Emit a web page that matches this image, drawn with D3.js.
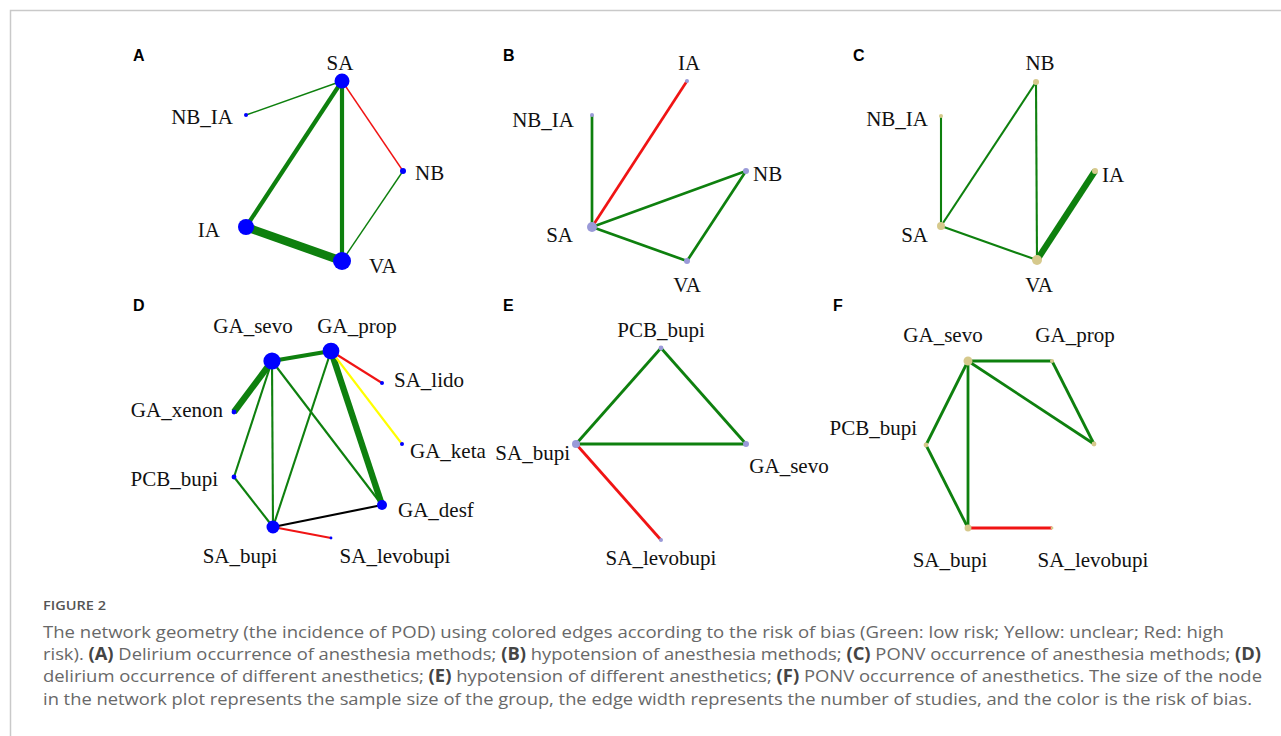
<!DOCTYPE html>
<html>
<head>
<meta charset="utf-8">
<script src="https://cdn.jsdelivr.net/npm/d3@7"></script>
<style>
  body { margin: 0; background: #fff; }
  svg { display: block; }
</style>
</head>
<body>
<svg id="chart"></svg>
<script>
// node layout units (netgraph coordinates), sample sizes and comparisons for each panel

// A - delirium, anesthesia methods
const aNodes = ["SA", "NB_IA", "NB", "IA", "VA"];
const aX = [22.2, 12.6, 28.3, 12.6, 22.2];
const aY = [4.1, 7.5, 13.1, 18.7, 22.1];
const aSize = [56, 4, 9, 64, 81];
const aEdges = [["SA", "NB_IA", 1, "low"], ["SA", "IA", 3, "low"], ["SA", "VA", 3, "low"],
                ["SA", "NB", 1, "high"], ["NB", "VA", 1, "low"], ["IA", "VA", 6, "low"]];

// B - hypotension, anesthesia methods
const bNodes = ["IA", "NB_IA", "NB", "SA", "VA"];
const bX = [19.7, 10.2, 25.6, 10.2, 19.7];
const bY = [4.1, 7.5, 13.1, 18.7, 22.1];
const bSize = [4, 4, 9, 25, 9];
const bEdges = [["SA", "NB_IA", 1, "low"], ["SA", "IA", 1, "high"], ["SA", "NB", 1, "low"],
                ["SA", "VA", 1, "low"], ["NB", "VA", 1, "low"]];

// C - PONV, anesthesia methods
const cNodes = ["NB", "NB_IA", "IA", "SA", "VA"];
const cX = [19.6, 10.1, 25.5, 10.1, 19.7];
const cY = [4.2, 7.6, 13.1, 18.6, 22.0];
const cSize = [9, 4, 9, 16, 25];
const cEdges = [["NB_IA", "SA", 1, "low"], ["SA", "NB", 1, "low"], ["NB", "VA", 1, "low"],
                ["SA", "VA", 1, "low"], ["VA", "IA", 3, "low"]];

// D - delirium, anesthetics
const dNodes = ["GA_sevo", "GA_prop", "SA_lido", "GA_xenon", "GA_keta", "PCB_bupi", "GA_desf", "SA_bupi", "SA_levobupi"];
const dX = [15.2, 21.1, 26.2, 11.4, 28.2, 11.4, 26.2, 15.3, 21.1];
const dY = [7.1, 6.1, 9.3, 12.2, 15.4, 18.7, 21.5, 23.7, 24.8];
const dSize = [74, 70, 4, 6, 4, 6, 25, 42, 2];
const dEdges = [["GA_sevo", "GA_prop", 2, "low"], ["GA_sevo", "GA_xenon", 3, "low"],
                ["GA_sevo", "PCB_bupi", 1, "low"], ["GA_sevo", "SA_bupi", 1, "low"],
                ["GA_sevo", "GA_desf", 1, "low"], ["GA_prop", "SA_bupi", 1, "low"],
                ["GA_prop", "GA_desf", 3, "low"], ["GA_prop", "SA_lido", 1, "high"],
                ["GA_prop", "GA_keta", 1, "unclear"], ["PCB_bupi", "SA_bupi", 1, "low"],
                ["SA_bupi", "GA_desf", 1, "other"], ["SA_bupi", "SA_levobupi", 1, "high"]];

// E - hypotension, anesthetics
const eNodes = ["PCB_bupi", "SA_bupi", "GA_sevo", "SA_levobupi"];
const eX = [17.1, 8.6, 25.6, 17.1];
const eY = [5.8, 15.4, 15.4, 25.0];
const eSize = [6, 16, 9, 4];
const eEdges = [["PCB_bupi", "SA_bupi", 1, "low"], ["PCB_bupi", "GA_sevo", 1, "low"],
                ["SA_bupi", "GA_sevo", 1, "low"], ["SA_bupi", "SA_levobupi", 1, "high"]];

// F - PONV, anesthetics (one node carries no label in the figure)
const fNodes = ["GA_sevo", "GA_prop", "", "PCB_bupi", "SA_bupi", "SA_levobupi"];
const fX = [14.8, 23.2, 27.4, 10.6, 14.8, 23.2];
const fY = [7.1, 7.1, 15.4, 15.5, 23.8, 23.8];
const fSize = [20, 4, 6, 6, 12, 2];
const fEdges = [["GA_sevo", "GA_prop", 1, "low"], ["GA_sevo", "", 1, "low"], ["GA_prop", "", 1, "low"],
                ["GA_sevo", "PCB_bupi", 1, "low"], ["GA_sevo", "SA_bupi", 1, "low"],
                ["PCB_bupi", "SA_bupi", 1, "low"], ["SA_bupi", "SA_levobupi", 1, "high"]];

const captionLines = [
  [["The network geometry (the incidence of POD) using colored edges according to the risk of bias (Green: low risk; Yellow: unclear; Red: high", 0]],
  [["risk). ", 0], ["(A)", 1], [" Delirium occurrence of anesthesia methods; ", 0], ["(B)", 1],
   [" hypotension of anesthesia methods; ", 0], ["(C)", 1], [" PONV occurrence of anesthesia methods; ", 0], ["(D)", 1]],
  [["delirium occurrence of different anesthetics; ", 0], ["(E)", 1], [" hypotension of different anesthetics; ", 0],
   ["(F)", 1], [" PONV occurrence of anesthetics. The size of the node", 0]],
  [["in the network plot represents the sample size of the group, the edge width represents the number of studies, and the color is the risk of bias.", 0]]
];

// ---- drawing ----
var svgWidth = 1281, svgHeight = 736;
var svg = d3.select("#chart").attr("width", svgWidth).attr("height", svgHeight);

var riskColor = { low: "#0e800e", high: "#f01414", unclear: "#ffff00", other: "#000000" };

// label placement per node: [dx, dy, anchor] in px from the node
var panels = [
  { letter: "A", ox: 120, oy: 40, nodes: aNodes, x: aX, y: aY, size: aSize, edges: aEdges, fill: "#0000ff", maxW: 8.4,
    labels: [[-2, -11, "middle"], [-13, 9, "end"], [12, 9, "start"], [-26, 10, "end"], [27, 12, "start"]] },
  { letter: "B", ox: 490, oy: 40, nodes: bNodes, x: bX, y: bY, size: bSize, edges: bEdges, fill: "#9a9ad8", maxW: 2.7,
    labels: [[2, -11, "middle"], [-18, 12, "end"], [7, 10, "start"], [-19, 15, "end"], [0, 31, "middle"]] },
  { letter: "C", ox: 840, oy: 40, nodes: cNodes, x: cX, y: cY, size: cSize, edges: cEdges, fill: "#d6c98c", maxW: 6.3,
    labels: [[4, -12, "middle"], [-13, 10, "end"], [7, 11, "start"], [-13, 16, "end"], [2, 32, "middle"]] },
  { letter: "D", ox: 120, oy: 290, nodes: dNodes, x: dX, y: dY, size: dSize, edges: dEdges, fill: "#0000ff", maxW: 6.3,
    labels: [[-19, -28, "middle"], [26, -18, "middle"], [12, 4, "start"], [-11, 5, "end"], [8, 14, "start"],
             [-16, 9, "end"], [16, 12, "start"], [-33, 36, "middle"], [64, 25, "middle"]] },
  { letter: "E", ox: 490, oy: 290, nodes: eNodes, x: eX, y: eY, size: eSize, edges: eEdges, fill: "#9a9ad8", maxW: 2.8,
    labels: [[0, -11, "middle"], [-6, 16, "end"], [43, 29, "middle"], [0, 25, "middle"]] },
  { letter: "F", ox: 820, oy: 290, nodes: fNodes, x: fX, y: fY, size: fSize, edges: fEdges, fill: "#d6c98c", maxW: 2.8,
    labels: [[-25, -19, "middle"], [23, -19, "middle"], [0, 0, "middle"], [-9, -10, "end"], [-18, 39, "middle"], [41, 39, "middle"]] }
];

// frame of the figure box
svg.append("path")
  .attr("d", "M1281,10.5H10.5V736")
  .attr("fill", "none")
  .attr("stroke", "#c9c9c9")
  .attr("stroke-width", 1.5);

var r = d3.scaleSqrt().domain([0, 100]).range([0, 10]);

panels.forEach(function(p) {
  var x = d3.scaleLinear().domain([0, 30]).range([p.ox, p.ox + 300]);
  var y = d3.scaleLinear().domain([0, 30]).range([p.oy, p.oy + 300]);
  var w = d3.scaleLinear().domain([0, d3.max(p.edges, function(e) { return e[2]; })]).range([0, p.maxW]);

  var nodes = p.nodes.map(function(name, i) {
    return { name: name, x: p.x[i], y: p.y[i], n: p.size[i], lab: p.labels[i] };
  });
  var byName = {};
  nodes.forEach(function(d) { byName[d.name] = d; });

  var g = svg.append("g");

  g.append("text")
    .attr("x", p.ox + 13)
    .attr("y", p.oy + 21)
    .attr("font-family", "'Liberation Sans', Arial, sans-serif")
    .attr("font-weight", "bold")
    .attr("font-size", 16)
    .attr("fill", "#000")
    .text(p.letter);

  g.selectAll("line.edge")
    .data(p.edges)
    .enter()
    .append("line")
    .attr("class", "edge")
    .attr("x1", function(e) { return x(byName[e[0]].x); })
    .attr("y1", function(e) { return y(byName[e[0]].y); })
    .attr("x2", function(e) { return x(byName[e[1]].x); })
    .attr("y2", function(e) { return y(byName[e[1]].y); })
    .attr("stroke", function(e) { return riskColor[e[3]]; })
    .attr("stroke-width", function(e) { return w(e[2]); });

  g.selectAll("circle")
    .data(nodes)
    .enter()
    .append("circle")
    .attr("cx", function(d) { return x(d.x); })
    .attr("cy", function(d) { return y(d.y); })
    .attr("r", function(d) { return r(d.n); })
    .attr("fill", p.fill);

  g.selectAll("text.node")
    .data(nodes.filter(function(d) { return d.name !== ""; }))
    .enter()
    .append("text")
    .attr("class", "node")
    .attr("x", function(d) { return x(d.x) + d.lab[0]; })
    .attr("y", function(d) { return y(d.y) + d.lab[1]; })
    .attr("text-anchor", function(d) { return d.lab[2]; })
    .attr("font-family", "'Liberation Serif', 'Times New Roman', serif")
    .attr("font-size", 21)
    .attr("fill", "#111")
    .text(function(d) { return d.name; });
});

// caption
var capX = 43;
svg.append("text")
  .attr("x", capX)
  .attr("y", 610)
  .attr("font-family", "'Open Sans', sans-serif")
  .attr("font-weight", 600)
  .attr("font-size", 13)
  .attr("fill", "#555")
  .attr("textLength", 63)
  .attr("lengthAdjust", "spacingAndGlyphs")
  .text("FIGURE 2");

var lineEnds = [1224, 1261, 1262, 1252];
captionLines.forEach(function(parts, i) {
  var t = svg.append("text")
    .attr("x", capX)
    .attr("y", 637.5 + i * 22.4)
    .attr("font-family", "'Open Sans', sans-serif")
    .attr("font-size", 17)
    .attr("fill", "#686868")
    .attr("textLength", lineEnds[i] - capX)
    .attr("lengthAdjust", "spacingAndGlyphs");
  parts.forEach(function(s) {
    t.append("tspan")
      .attr("font-weight", s[1] ? 700 : 400)
      .attr("fill", s[1] ? "#444" : "#686868")
      .text(s[0]);
  });
});
</script>
</body>
</html>
